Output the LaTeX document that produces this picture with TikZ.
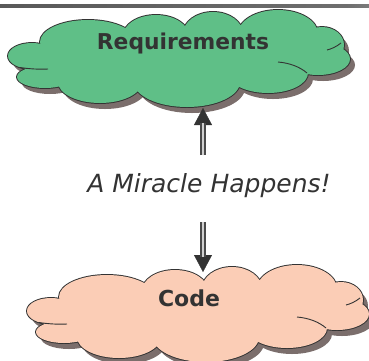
\documentclass[tikz,border=0pt]{standalone}
\usepackage{fontspec}
\setsansfont{DejaVu Sans}
\usetikzlibrary{arrows.meta}
\definecolor{reqfill}{HTML}{5FBF87}
\definecolor{codefill}{HTML}{FBCDB6}
\definecolor{shadowc}{HTML}{7B6E6C}
\definecolor{inkc}{HTML}{333333}
\definecolor{shaftc}{HTML}{4A4A4A}
\definecolor{shaftin}{HTML}{D0D0D0}
\definecolor{barL}{HTML}{4E4E4E}
\definecolor{barM}{HTML}{6E6E6E}
\definecolor{barR}{HTML}{E2E2E2}
\pgfdeclarehorizontalshading{barshade}{100bp}{color(0bp)=(barL); color(72bp)=(barM); color(100bp)=(barR)}
\def\cloudlobes{%
 (185,58) ellipse [x radius=145, y radius=28]
 (32,56) ellipse [x radius=24, y radius=13]
 (45,77) ellipse [x radius=28, y radius=11]
 (100,82) ellipse [x radius=42, y radius=21]
 (88,42) ellipse [x radius=48, y radius=22]
 (156,36) ellipse [x radius=33, y radius=21]
 (213,34) ellipse [x radius=30, y radius=22]
 (278,34) ellipse [x radius=40, y radius=24]
 (322,45) ellipse [x radius=22, y radius=18]
 (318,59) ellipse [x radius=32, y radius=16]
 (268,73) ellipse [x radius=40, y radius=20]
 (187,82) ellipse [x radius=53, y radius=25]}
\tikzset{
  pics/cloudy/.style={code={
    \path[fill=shadowc, shift={(5,6)}] \cloudlobes;
    \path[draw=inkc, line width=1.9pt] \cloudlobes;
    \path[fill=#1] \cloudlobes;
    \draw[inkc, line width=0.9pt] (20,67.5) .. controls (30,69) and (40,69.5) .. (48,69);
    \draw[inkc, line width=0.9pt] (341,43) .. controls (336,47) and (331,49) .. (327,50);
    \draw[inkc, line width=0.9pt] (278,62) .. controls (290,63) and (300,67) .. (307,73);
  }},
  label/.style={text=inkc, inner sep=0pt},
  shaft/.style={draw=shaftc, line width=1.4pt, double=shaftin, double distance=2.8pt, shorten >=15pt},
  head/.style={draw=inkc, fill=inkc, line width=0.3pt, -{Triangle[length=17pt,width=18pt]}}
}
\begin{document}
\begin{tikzpicture}[x=1pt,y=-1pt]
\useasboundingbox (0,0) rectangle (369,360);
\shade[shading=barshade] (0,4.5) rectangle (369,7.5);
\pic at (0,0) {cloudy=reqfill};
\pic at (19,255) {cloudy=codefill};
\node[label, font=\sffamily\bfseries\fontsize{21.8}{26}\selectfont] (req) at (183,43) {Requirements};
\node[label, font=\sffamily\itshape\fontsize{25}{30}\selectfont] (mir) at (209,186) {A Miracle Happens!};
\node[label, font=\sffamily\bfseries\fontsize{22}{26}\selectfont] (code) at (189,298) {Code};
\coordinate (upbot) at (203,155);
\coordinate (uptip) at (203,108);
\coordinate (dntop) at (203,222);
\coordinate (dntip) at (203,272);
\draw[head] (upbot) -- (uptip);
\draw[shaft] (upbot) -- (uptip);
\draw[head] (dntop) -- (dntip);
\draw[shaft] (dntop) -- (dntip);
\end{tikzpicture}
\end{document}
